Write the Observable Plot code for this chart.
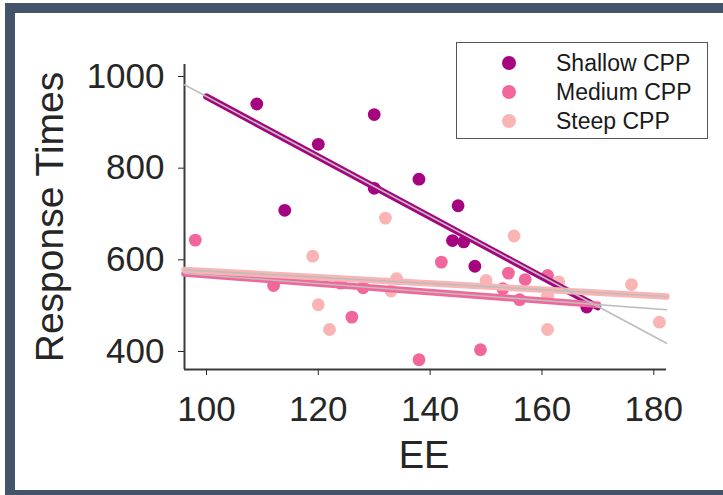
<!DOCTYPE html>
<html>
<head>
<meta charset="utf-8">
<script src="https://cdn.jsdelivr.net/npm/d3@7"></script>
<script src="https://cdn.jsdelivr.net/npm/@observablehq/plot@0.6"></script>
<style>
  html, body { margin: 0; padding: 0; width: 723px; height: 495px; overflow: hidden; background: #fff; }
  body { position: relative; font-family: "Liberation Sans", Arial, Helvetica, sans-serif; }
  #frame { position: absolute; left: 5px; top: 3px; width: 800px; height: 477px;
           border: 10px solid #44546a; border-right: none; }
  #chart { position: absolute; left: 0; top: 0; }
  .axis-title { position: absolute; color: #262626; font-size: 38px; line-height: 1; white-space: nowrap; }
  #xtitle { left: 424px; top: 436px; transform: translateX(-50%); }
  #ytitle { left: 49px; top: 217px; transform: translate(-50%, -50%) rotate(-90deg); font-size: 39px; }
  #legend { position: absolute; left: 456px; top: 42px; width: 252px; height: 97px;
            box-sizing: border-box; border: 1.5px solid #555; background: #fff; }
  #legend .row { position: absolute; left: 0; height: 24px; }
  #legend .dot { position: absolute; left: 45px; top: 5px; width: 14px; height: 14px; border-radius: 50%; }
  #legend .lbl { position: absolute; left: 99px; top: 0; font-size: 23px; line-height: 24px; color: #1a1a1a; white-space: nowrap; }
</style>
</head>
<body>
<div id="frame"></div>
<div id="chart"></div>
<div class="axis-title" id="xtitle">EE</div>
<div class="axis-title" id="ytitle">Response Times</div>
<div id="legend"></div>
<script>
// Groups and their colours
const groups = ["Shallow CPP", "Medium CPP", "Steep CPP"];
const groupColors = ["#a6037f", "#f2679b", "#f9b4b3"];

// Observations per group: EE (x) and response time (y)
const shallowEE = [109, 130, 120, 138, 130, 114, 145, 144, 146, 148, 168];
const shallowRT = [940, 917, 852, 776, 756, 708, 718, 642, 639, 586, 497];

const mediumEE = [98, 112, 124, 128, 126, 138, 142, 149, 154, 157, 156, 161, 153];
const mediumRT = [643, 544, 549, 539, 475, 382, 595, 404, 571, 557, 513, 566, 537];

const steepEE = [132, 119, 120, 122, 134, 133, 155, 150, 163, 161, 161, 176, 181];
const steepRT = [691, 608, 502, 448, 559, 532, 652, 555, 552, 521, 448, 546, 464];

// Fitted trend lines: full-width guide (thin grey) and the coloured band over each group's span
const fitEE = [96.07, 182.27];
const shallowFitRT = [982, 418];
const mediumFitRT = [570, 491];
const steepFitRT = [578, 520];

const bandStartEE = [100, 96.07, 96.07];
const bandEndEE = [170, 170, 182.27];
const bandStartRT = [956, 570, 578];
const bandEndRT = [497, 502, 520];

// Axis ticks
const xTicks = [100, 120, 140, 160, 180];
const yTicks = [400, 600, 800, 1000];
const xDomain = [96.07, 182.27];
const yDomain = [360.7, 1026.2];

// Assemble tidy tables for the marks
const points = [
  ...shallowEE.map((x, i) => ({group: groups[0], ee: x, rt: shallowRT[i]})),
  ...mediumEE.map((x, i) => ({group: groups[1], ee: x, rt: mediumRT[i]})),
  ...steepEE.map((x, i) => ({group: groups[2], ee: x, rt: steepRT[i]}))
];

const fitRTs = [shallowFitRT, mediumFitRT, steepFitRT];
const guideLines = groups.flatMap((g, k) =>
  fitEE.map((x, j) => ({group: g, ee: x, rt: fitRTs[k][j]})));

const bands = groups.flatMap((g, k) => [
  {group: g, ee: bandStartEE[k], rt: bandStartRT[k]},
  {group: g, ee: bandEndEE[k], rt: bandEndRT[k]}
]);

const chart = Plot.plot({
  width: 723,
  height: 495,
  marginLeft: 184,
  marginRight: 57,
  marginTop: 64,
  marginBottom: 126,
  style: {
    fontFamily: '"Liberation Sans", Arial, Helvetica, sans-serif',
    fontSize: "35px",
    color: "#262626",
    background: "transparent",
    overflow: "visible"
  },
  x: {domain: xDomain, ticks: xTicks, tickSize: 6, tickPadding: 21, tickFormat: d => String(d), label: null},
  y: {domain: yDomain, ticks: yTicks, tickSize: 6, tickPadding: 14, tickFormat: d => String(d), label: null},
  color: {domain: groups, range: groupColors},
  marks: [
    Plot.ruleX([xDomain[0]], {y1: yDomain[0], y2: yDomain[1], stroke: "#3a3a3a", strokeWidth: 2}),
    Plot.ruleY([yDomain[0]], {x1: xDomain[0], x2: xDomain[1], stroke: "#3a3a3a", strokeWidth: 2}),
    Plot.dot(points, {x: "ee", y: "rt", fill: "group", r: 6.4}),
    Plot.line(bands, {x: "ee", y: "rt", z: "group", stroke: "group", strokeWidth: 6.5}),
    Plot.line(guideLines, {x: "ee", y: "rt", z: "group", stroke: "#bdbdbd", strokeWidth: 1.6})
  ]
});
document.getElementById("chart").appendChild(chart);

// Legend built from the chart's colour scale
const colorScale = chart.scale("color");
const legend = document.getElementById("legend");
colorScale.domain.forEach((g, i) => {
  const row = document.createElement("div");
  row.className = "row";
  row.style.top = (8 + i * 29) + "px";
  const dot = document.createElement("div");
  dot.className = "dot";
  dot.style.background = colorScale.range[i];
  const lbl = document.createElement("div");
  lbl.className = "lbl";
  lbl.textContent = g;
  row.appendChild(dot);
  row.appendChild(lbl);
  legend.appendChild(row);
});
</script>
</body>
</html>
